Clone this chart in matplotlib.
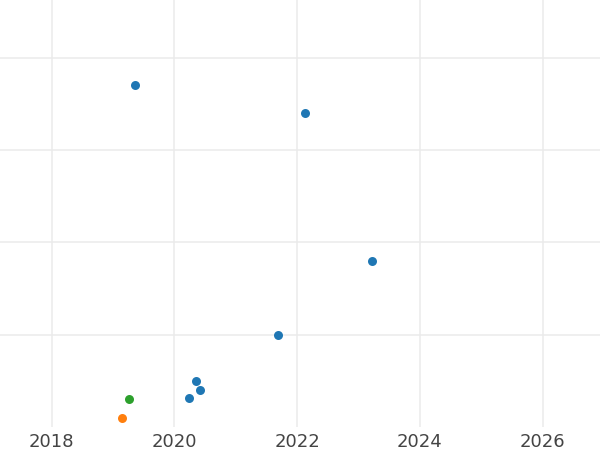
import matplotlib
matplotlib.use("Agg")
import matplotlib.pyplot as plt

# Data
blue_x = [2019.36, 2022.12, 2023.22, 2021.68, 2020.35, 2020.42, 2020.23]
blue_y = [3.70, 3.40, 1.80, 1.00, 0.50, 0.40, 0.31]
orange_x = [2019.15]
orange_y = [0.094]
green_x = [2019.26]
green_y = [0.30]

x_ticks = [2018, 2020, 2022, 2024, 2026]
y_ticks = [1, 2, 3, 4]

fig = plt.figure(figsize=(6, 4.5), dpi=100)
ax = fig.add_axes([0, 1 - 427 / 450, 1, 427 / 450])

ax.scatter(blue_x, blue_y, s=42, color="#1f77b4", linewidths=0, zorder=3)
ax.scatter(orange_x, orange_y, s=42, color="#ff7f0e", linewidths=0, zorder=3)
ax.scatter(green_x, green_y, s=42, color="#2ca02c", linewidths=0, zorder=3)

ax.set_xlim(2017.158, 2026.934)
ax.set_ylim(0, 427 / 92.33)
ax.set_xticks(x_ticks)
ax.set_xticklabels([str(t) for t in x_ticks])
ax.set_yticks(y_ticks)
ax.set_yticklabels([])
ax.grid(True, color="#ebebeb", linewidth=1.1, zorder=0)
ax.set_axisbelow(True)
for s in ax.spines.values():
    s.set_visible(False)
ax.tick_params(axis="both", length=0, labelsize=13, labelcolor="#444444", pad=4.5)
ax.tick_params(axis="y", labelleft=False)

fig.savefig("out.png", dpi=100)
